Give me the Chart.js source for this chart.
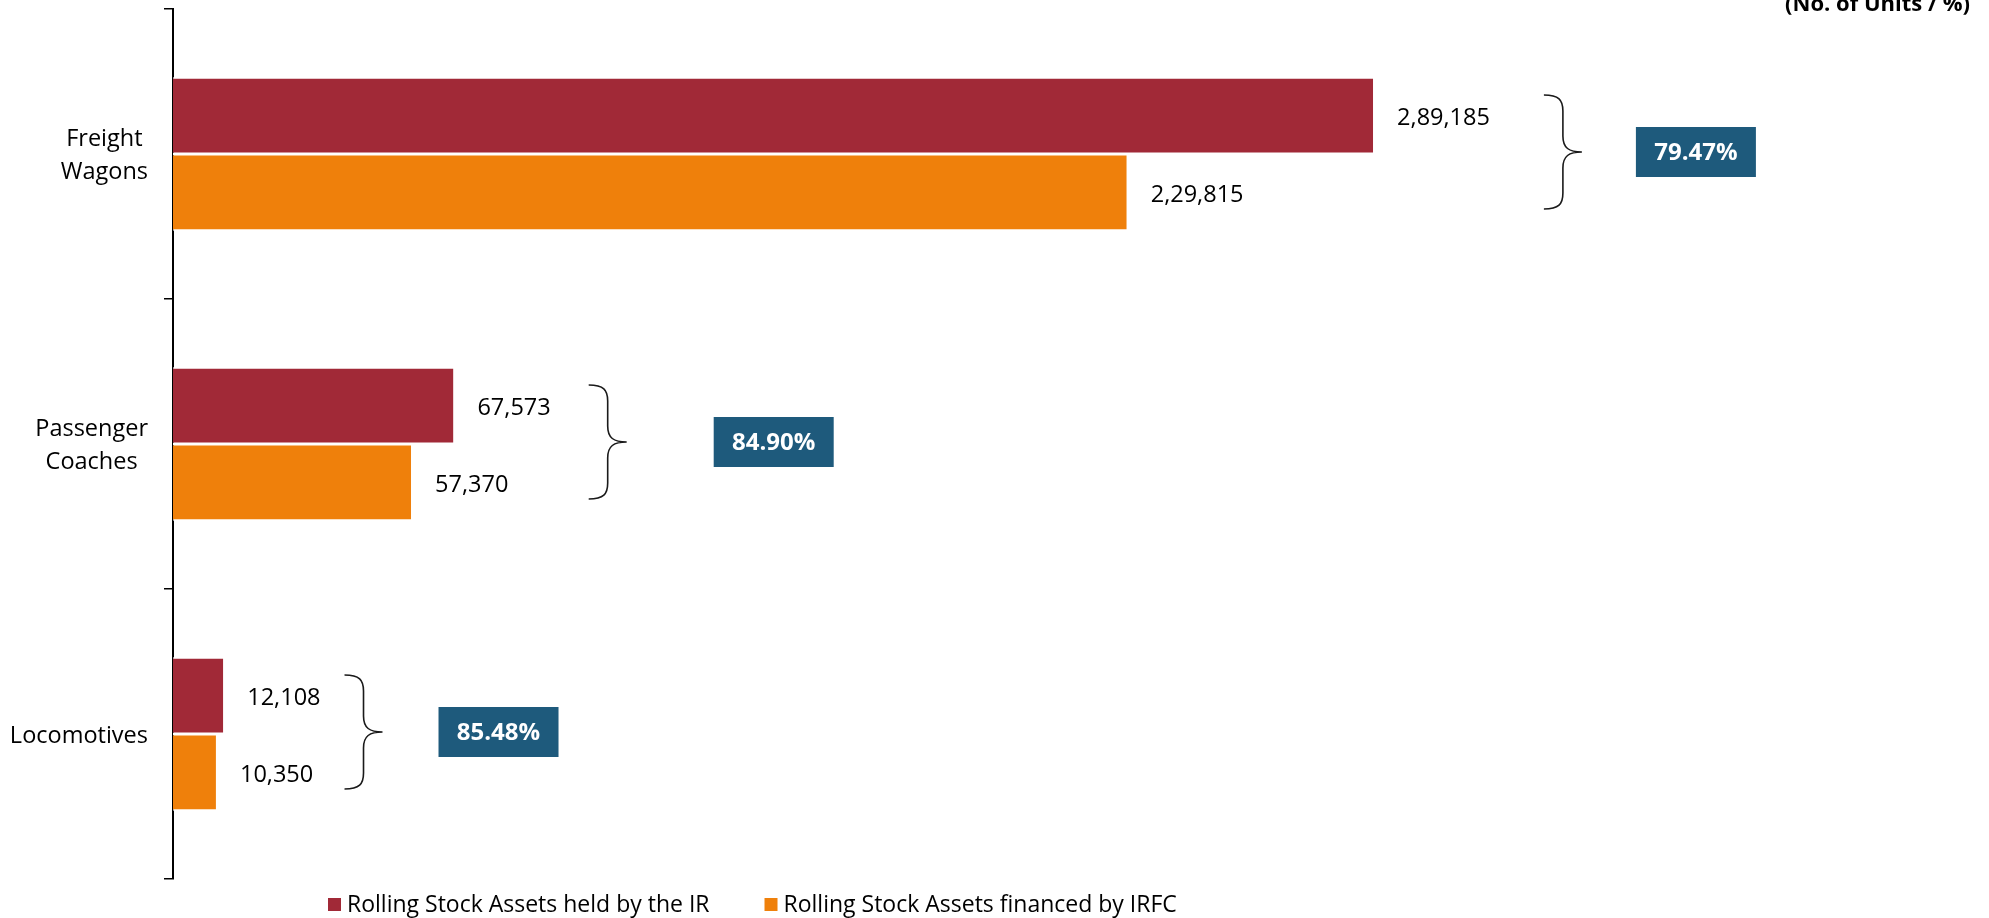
<!DOCTYPE html>
<html>
<head>
<meta charset="utf-8">
<script src="https://cdn.jsdelivr.net/npm/chart.js@4.4.1/dist/chart.umd.min.js"></script>
<style>
  html, body { margin: 0; padding: 0; background: #fff; }
  #wrap { width: 1989px; height: 918px; position: relative; }
</style>
</head>
<body>
<div id="wrap"><canvas id="myChart"></canvas></div>
<script>
// data
const categories = [["Freight", "Wagons"], ["Passenger", "Coaches"], ["Locomotives"]];
const heldByIR = [289185, 67573, 12108];
const financedByIRFC = [229815, 57370, 10350];
const shareFinanced = ["79.47%", "84.90%", "85.48%"];
const seriesNames = ["Rolling Stock Assets held by the IR", "Rolling Stock Assets financed by IRFC"];
const unitsNote = "(No. of Units / %)";

const RED = "#A12937";
const ORANGE = "#EF800B";
const BLUE = "#1E5A7C";
const FONT = "'Open Sans', sans-serif";

// brace / box spacing per category (px), as placed by hand in the original
const braceGap = [54, 38, 24];
const boxGap = [54, 87, 56];

// indian digit grouping: 2,89,185
function fmtIN(n) {
    const s = String(n);
    if (s.length <= 3) return s;
    const last3 = s.slice(-3);
    const rest = s.slice(0, -3).replace(/\B(?=(\d{2})+(?!\d))/g, ",");
    return rest + "," + last3;
}

function drawBrace(ctx, left, mid, half) {
    const w = 38, xm = left + 19, r = 16;
    const top = mid - half, bottom = mid + half;
    ctx.beginPath();
    ctx.moveTo(left, top);
    ctx.bezierCurveTo(left + 15, top, xm, top + 5, xm, top + r);
    ctx.lineTo(xm, mid - r);
    ctx.bezierCurveTo(xm, mid - 4, xm + 6, mid, left + w, mid);
    ctx.bezierCurveTo(xm + 6, mid, xm, mid + 4, xm, mid + r);
    ctx.lineTo(xm, bottom - r);
    ctx.bezierCurveTo(xm, bottom - 5, left + 15, bottom, left, bottom);
    ctx.lineWidth = 1.6;
    ctx.strokeStyle = "#1a1a1a";
    ctx.stroke();
}

const extras = {
    id: "extras",
    afterDatasetsDraw(chart) {
        const ctx = chart.ctx;
        const yScale = chart.scales.y;
        ctx.save();

        // value labels next to the bars
        ctx.font = "23.5px " + FONT;
        ctx.fillStyle = "#000";
        ctx.textBaseline = "middle";
        ctx.textAlign = "left";
        const labelEnd = categories.map(() => 0);
        chart.data.datasets.forEach((ds, i) => {
            chart.getDatasetMeta(i).data.forEach((bar, j) => {
                const txt = fmtIN(ds.data[j]);
                const x = bar.x + 24;
                ctx.fillText(txt, x, bar.y + 3);
                labelEnd[j] = Math.max(labelEnd[j], x + ctx.measureText(txt).width);
            });
        });

        // braces and share boxes
        const m0 = chart.getDatasetMeta(0).data;
        const m1 = chart.getDatasetMeta(1).data;
        categories.forEach((c, j) => {
            const mid = (m0[j].y + m1[j].y) / 2 - 2;
            const left = labelEnd[j] + braceGap[j];
            drawBrace(ctx, left, mid, 57);
            const bx = left + 38 + boxGap[j];
            ctx.fillStyle = BLUE;
            ctx.fillRect(bx, mid - 25, 120, 50);
            ctx.fillStyle = "#fff";
            ctx.font = "bold 24px " + FONT;
            ctx.textAlign = "center";
            ctx.fillText(shareFinanced[j], bx + 60, mid + 1);
            ctx.textAlign = "left";
        });

        // category labels, each block right aligned, lines centred
        ctx.font = "23.5px " + FONT;
        ctx.fillStyle = "#000";
        categories.forEach((lines, j) => {
            const cy = yScale.getPixelForValue(j);
            const w = Math.max(...lines.map(l => ctx.measureText(l).width));
            const cx = 148 - w / 2;
            ctx.textAlign = "center";
            lines.forEach((l, k) => {
                ctx.fillText(l, cx, cy + 2 + (k - (lines.length - 1) / 2) * 33);
            });
        });

        // legend
        ctx.font = "23px " + FONT;
        ctx.textAlign = "left";
        let x = 328;
        [RED, ORANGE].forEach((col, i) => {
            ctx.fillStyle = col;
            ctx.fillRect(x, 898, 13, 13);
            ctx.fillStyle = "#000";
            ctx.fillText(seriesNames[i], x + 19, 905);
            x += 19 + ctx.measureText(seriesNames[i]).width + 55;
        });

        // units note, top right (cut by the top edge like the original)
        ctx.font = "bold 22px " + FONT;
        ctx.textAlign = "right";
        ctx.textBaseline = "alphabetic";
        ctx.fillText(unitsNote, 1970, 11);

        ctx.restore();
    }
};

var ctx = document.getElementById("myChart").getContext("2d");

var myBarChart = new Chart(ctx, {
    type: "bar",
    data: {
        labels: categories,
        datasets: [{
            label: seriesNames[0],
            data: heldByIR,
            backgroundColor: RED,
            borderColor: "#fff",
            borderWidth: {top: 1.5, bottom: 1.5, left: 0, right: 0},
            borderSkipped: false
        }, {
            label: seriesNames[1],
            data: financedByIRFC,
            backgroundColor: ORANGE,
            borderColor: "#fff",
            borderWidth: {top: 1.5, bottom: 1.5, left: 0, right: 0},
            borderSkipped: false
        }]
    },
    options: {
        indexAxis: "y",
        responsive: true,
        maintainAspectRatio: false,
        devicePixelRatio: 1,
        animation: false,
        categoryPercentage: 0.53,
        barPercentage: 1,
        layout: {padding: {top: 9, bottom: 39, left: 0, right: 73}},
        plugins: {
            legend: {display: false},
            tooltip: {enabled: false}
        },
        scales: {
            x: {display: false, min: 0, max: 420000},
            y: {
                offset: true,
                grid: {
                    offset: true,
                    drawOnChartArea: false,
                    drawTicks: true,
                    tickLength: 9,
                    color: "#000",
                    lineWidth: 1.5
                },
                border: {display: true, color: "#000", width: 2},
                ticks: {display: false},
                afterFit: function (scale) { scale.width = 173; }
            }
        }
    },
    plugins: [extras]
});
</script>
</body>
</html>
